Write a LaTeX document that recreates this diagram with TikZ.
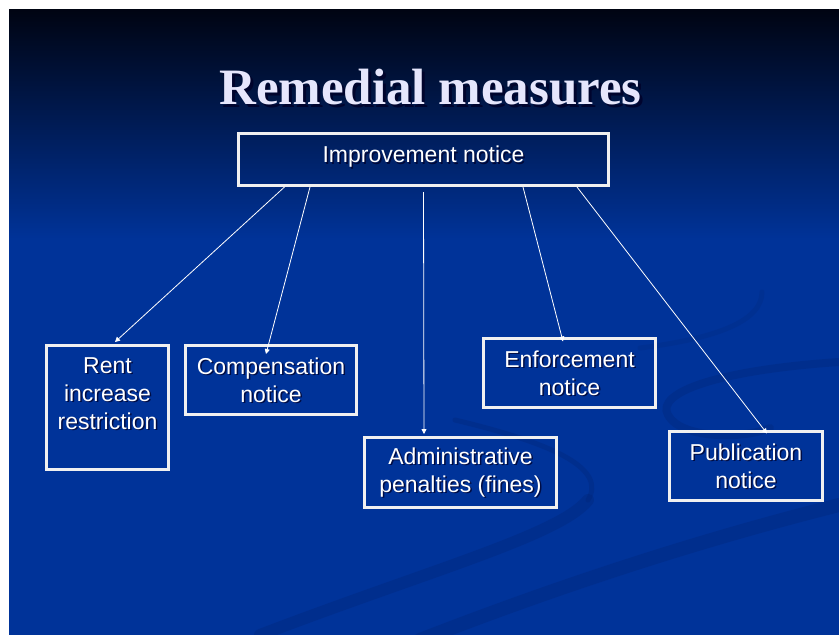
\documentclass[tikz,border=0pt]{standalone}
\usepackage{fontspec}
\usetikzlibrary{calc}
\usetikzlibrary{arrows.meta}
\newfontfamily\boxfont{Liberation Sans}
\newfontfamily\titlefont{Liberation Serif}
\definecolor{slidetop}{RGB}{0,4,18}
\definecolor{slideblue}{RGB}{0,51,153}
\definecolor{titlelav}{RGB}{230,230,252}
\definecolor{swirl}{RGB}{0,36,115}
\definecolor{shadenavy}{RGB}{0,0,40}
\pgfdeclarelayer{tint}
\pgfdeclarelayer{shade}
\pgfsetlayers{tint,shade,main}

\begin{document}
\begin{tikzpicture}[x=1pt,y=-1pt,
    remedy/.style={draw=white!94!black, line width=3pt, inner sep=0pt, align=center,
      text=white, font=\boxfont\fontsize{23}{28}\selectfont},
    textshade/.style={inner sep=0pt, align=center, text=shadenavy, opacity=0.75,
      font=\boxfont\fontsize{23}{28}\selectfont},
    heading/.style={inner sep=0pt, anchor=base, font=\titlefont\bfseries\fontsize{51}{60}\selectfont},
    link/.style={draw=white, line width=0.8pt, -{Triangle[length=5pt,width=5pt]}},
    swoosh/.style={draw=swirl, opacity=0.3, line cap=round}]
    \useasboundingbox (0,0) rectangle (839,635);
    \begin{pgfonlayer}{tint}
      \fill[white] (0,0) rectangle (839,635);
      \shade[top color=slidetop, bottom color=slideblue] (9,9) rectangle (839,240);
      \fill[slideblue] (9,240) rectangle (839,635);
      % faint swirls in the slide background
      \draw[swoosh, line width=12pt] (260,635) .. controls (430,570) and (560,535) .. (588,500);
      \draw[swoosh, line width=5pt] (588,500) .. controls (606,470) and (560,445) .. (455,420);
      \draw[swoosh, line width=14pt] (420,640) .. controls (600,570) and (740,530) .. (839,505);
      \draw[swoosh, line width=8pt] (839,362) .. controls (720,370) and (655,392) .. (668,415)
        .. controls (680,438) and (740,440) .. (770,428);
      \draw[swoosh, line width=5pt, opacity=0.2] (762,292) .. controls (762,320) and (720,338) .. (640,348);
    \end{pgfonlayer}

    \begin{pgfonlayer}{shade}
      \node[heading, text=shadenavy, opacity=0.8] at (433.5,107) {Remedial measures};
    \end{pgfonlayer}
    \node[heading, text=titlelav] (ttl) at (430.5,104) {Remedial measures};

    \node[remedy, minimum width=370pt, minimum height=52pt, text depth=10pt] (imp) at (423.5,159.5) {Improvement notice};
    \node[remedy, minimum width=122pt, minimum height=124pt] (rent) at (107.5,407.5) {Rent\\increase\\restriction\\~};
    \node[remedy, minimum width=171pt, minimum height=69pt] (comp) at (271,380) {Compensation\\notice};
    \node[remedy, minimum width=192pt, minimum height=70pt] (admin) at (460.5,472.5) {Administrative\\penalties (fines)};
    \node[remedy, minimum width=172pt, minimum height=69pt] (enf) at (569.5,373) {Enforcement\\notice};
    \node[remedy, minimum width=153pt, minimum height=69pt] (pub) at (746,466) {Publication\\notice};

    \begin{pgfonlayer}{shade}
      \foreach \n/\t in {imp/{\vphantom{p}Improvement notice\vphantom{\rule[-10pt]{0pt}{1pt}}}, rent/{Rent\\increase\\restriction\\~},
          comp/{Compensation\\notice}, admin/{Administrative\\penalties (fines)},
          enf/{Enforcement\\notice}, pub/{Publication\\notice}}
        \node[textshade] at ([shift={(1.5pt,-1.5pt)}]\n.center) {\t};
    \end{pgfonlayer}

    \draw[link] ([xshift=-139pt]imp.south) -- ([xshift=7.5pt,yshift=2pt]rent.north);
    \draw[link] ([xshift=-113.5pt]imp.south) -- ([xshift=-5pt,yshift=-10pt]comp.north);
    \draw[link] ([yshift=-5pt]imp.south) -- ([xshift=-36.5pt,yshift=2pt]admin.north);
    \draw[link] ([xshift=99.5pt]imp.south) -- ([xshift=-6.5pt,yshift=-4.5pt]enf.north);
    \draw[link] ([xshift=153.5pt]imp.south) -- ([xshift=21pt,yshift=-3.5pt]pub.north);
  \end{tikzpicture}
\end{document}
